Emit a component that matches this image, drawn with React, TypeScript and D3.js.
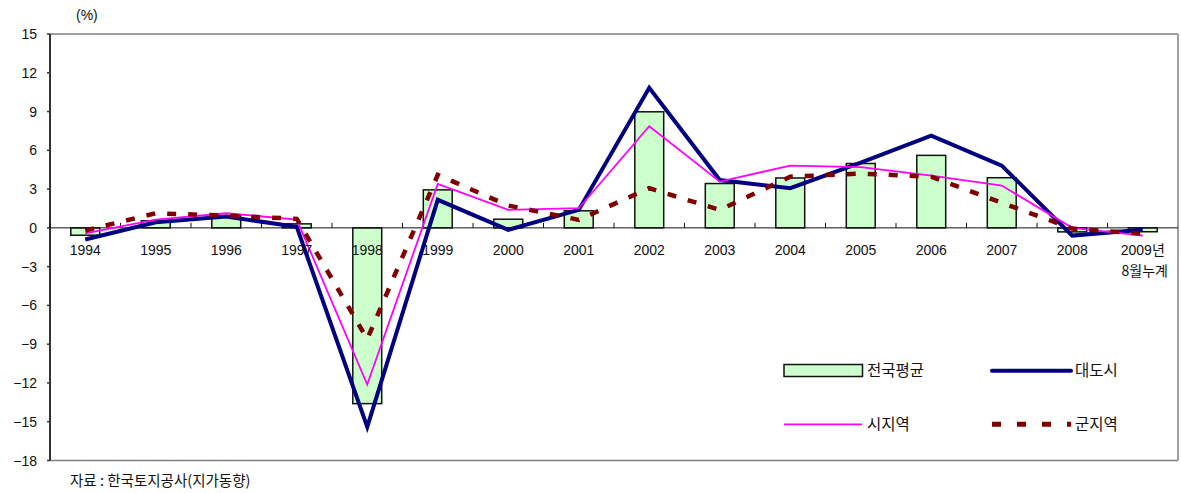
import React from "react";
import * as d3 from "d3";

const years = ["1994","1995","1996","1997","1998","1999","2000","2001","2002","2003","2004","2005","2006","2007","2008","2009년"];
const national = [-0.57, 0.55, 0.95, 0.31, -13.6, 2.94, 0.67, 1.32, 8.98, 3.43, 3.86, 4.98, 5.61, 3.88, -0.31, -0.3];
const metro = [-0.9, 0.43, 0.87, 0.08, -15.4, 2.17, -0.15, 1.39, 10.84, 3.7, 3.07, 5.05, 7.14, 4.82, -0.6, -0.15];
const cities = [-0.42, 0.64, 1.13, 0.64, -12.13, 3.4, 1.39, 1.52, 7.86, 3.58, 4.82, 4.7, 4.05, 3.27, 0.0, -0.6];
const counties = [-0.2, 1.13, 0.95, 0.7, -8.6, 4.1, 1.73, 0.62, 3.07, 1.39, 3.96, 4.2, 3.96, 1.94, -0.05, -0.46];
const yTicks = [15, 12, 9, 6, 3, 0, -3, -6, -9, -12, -15, -18];

const W = 1181, H = 493;
const left = 50, right = 1178, top = 34, bottom = 460.5;
const FONT = '"Liberation Sans", "Noto Sans CJK KR", sans-serif';
const KFONT = '"Noto Sans CJK KR", "Liberation Sans", sans-serif';
const TXT = "#111";

export default function App() {
  const x = d3.scaleBand<string>().domain(years).range([left, right]).paddingInner(0).paddingOuter(0);
  const y = d3.scaleLinear().domain([-18, 15]).range([bottom, top]);
  const bw = x.bandwidth();
  const barW = bw * 0.41;
  const cx = (i: number) => (x(years[i]) as number) + bw / 2;
  const line = d3.line<number>().x((_, i) => cx(i)).y((d) => y(d));
  const fmt = (v: number) => (v < 0 ? "\u2212" + Math.abs(v) : String(v));

  return (
    <svg width={W} height={H} style={{ position: "absolute", left: 0, top: 0, background: "#fff" }}>
      {/* frame */}
      <line x1={left} x2={right} y1={top} y2={top} stroke="#808080" strokeWidth={1.5} />
      <line x1={right} x2={right} y1={top} y2={bottom} stroke="#808080" strokeWidth={1.5} />
      <line x1={left} x2={right} y1={bottom} y2={bottom} stroke="#808080" strokeWidth={1.5} />
      <line x1={left} x2={left} y1={top} y2={bottom} stroke="#333" strokeWidth={2} />
      {yTicks.map((t) => (
        <g key={t}>
          <line x1={left - 3} x2={left} y1={y(t)} y2={y(t)} stroke="#333" strokeWidth={1.5} />
          <text x={37} y={y(t)} dy="0.36em" textAnchor="end" fontFamily={FONT} fontSize={14} fill={TXT}>
            {fmt(t)}
          </text>
        </g>
      ))}
      <text x={76} y={20} fontFamily={FONT} fontSize={14} fill={TXT}>(%)</text>

      {/* bars */}
      {national.map((v, i) => (
        <rect
          key={i}
          x={cx(i) - barW / 2}
          y={Math.min(y(v), y(0))}
          width={barW}
          height={Math.abs(y(v) - y(0))}
          fill="#CCFFCC"
          stroke="#111"
          strokeWidth={1.5}
        />
      ))}

      {/* zero axis */}
      <line x1={left} x2={right} y1={y(0)} y2={y(0)} stroke="#111" strokeWidth={1} />
      {years.map((yr) => (
        <line key={yr} x1={x(yr) as number} x2={x(yr) as number} y1={y(0) - 5} y2={y(0)} stroke="#111" strokeWidth={1} />
      ))}

      {/* lines */}
      <path d={line(metro) || ""} fill="none" stroke="#000080" strokeWidth={4} strokeLinejoin="miter" />
      <path d={line(cities) || ""} fill="none" stroke="#FF00FF" strokeWidth={1.8} />
      <path d={line(counties) || ""} fill="none" stroke="#800000" strokeWidth={4.5} strokeDasharray="9,12" />

      {/* x labels */}
      {years.map((yr, i) => (
        <text key={yr} x={cx(i)} y={255} textAnchor="middle" fontFamily={FONT} fontSize={14} fill={TXT}>
          {yr}
        </text>
      ))}
      <text x={cx(15) + 2} y={276} textAnchor="middle" fontFamily={KFONT} fontSize={14} fill={TXT}>8월누계</text>

      {/* legend */}
      <rect x={784} y={364.5} width={78.5} height={12} fill="#CCFFCC" stroke="#111" strokeWidth={1.5} />
      <text x={867} y={371} dy="0.35em" fontFamily={KFONT} fontSize={15.5} fill={TXT}>전국평균</text>
      <line x1={992} x2={1071} y1={370.7} y2={370.7} stroke="#000080" strokeWidth={4} strokeLinecap="round" />
      <text x={1075} y={371} dy="0.35em" fontFamily={KFONT} fontSize={15.5} fill={TXT}>대도시</text>
      <line x1={784} x2={862} y1={424.3} y2={424.3} stroke="#FF00FF" strokeWidth={1.8} />
      <text x={867} y={424.5} dy="0.35em" fontFamily={KFONT} fontSize={15.5} fill={TXT}>시지역</text>
      <line x1={992} x2={1071} y1={424.3} y2={424.3} stroke="#800000" strokeWidth={5} strokeDasharray="9,16" />
      <text x={1075} y={424.5} dy="0.35em" fontFamily={KFONT} fontSize={15.5} fill={TXT}>군지역</text>

      {/* source */}
      <text x={70} y={481} dy="0.35em" fontFamily={KFONT} fontSize={14.5} fill={TXT}>자료 : 한국토지공사(지가동향)</text>
    </svg>
  );
}
